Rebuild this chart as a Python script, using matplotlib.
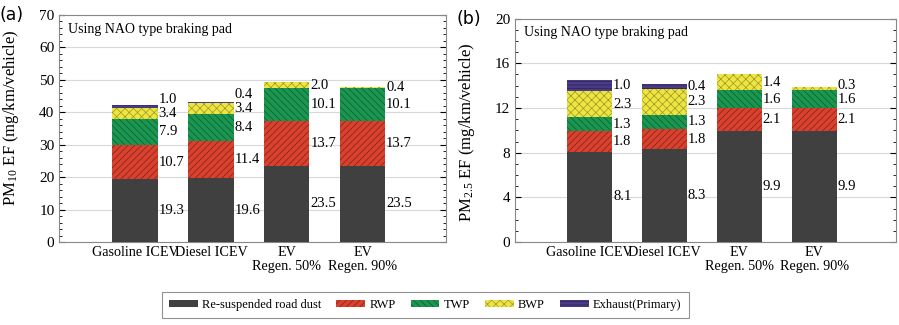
import matplotlib
matplotlib.use("Agg")
import matplotlib.pyplot as plt
import numpy as np
from matplotlib.patches import Patch
from matplotlib.ticker import MultipleLocator

plt.rcParams["font.family"] = ["Liberation Serif", "DejaVu Serif"]
plt.rcParams["mathtext.fontset"] = "stix"
plt.rcParams["hatch.linewidth"] = 0.5

CATEGORIES = ["Gasoline ICEV", "Diesel ICEV", "EV\nRegen. 50%", "EV\nRegen. 90%"]
SOURCES = ["Re-suspended road dust", "RWP", "TWP", "BWP", "Exhaust(Primary)"]

# PM10 emission factors (mg/km/vehicle)
PM10_DUST = [19.3, 19.6, 23.5, 23.5]
PM10_RWP = [10.7, 11.4, 13.7, 13.7]
PM10_TWP = [7.9, 8.4, 10.1, 10.1]
PM10_BWP = [3.4, 3.4, 2.0, 0.4]
PM10_EXH = [1.0, 0.4, 0.0, 0.0]

# PM2.5 emission factors (mg/km/vehicle)
PM25_DUST = [8.1, 8.3, 9.9, 9.9]
PM25_RWP = [1.8, 1.8, 2.1, 2.1]
PM25_TWP = [1.3, 1.3, 1.6, 1.6]
PM25_BWP = [2.3, 2.3, 1.4, 0.3]
PM25_EXH = [1.0, 0.4, 0.0, 0.0]

COLORS = ["#404040", "#d9402e", "#1a9650", "#eee63e", "#4b3a86"]
HATCHES = [None, "/////", "\\\\\\\\\\", "xxxx", "-----"]
HATCH_EC = ["#404040", "#7a2418", "#0f5a30", "#9a9430", "#2c2255"]


def panel(ax, series, ymax, ystep, minor, ylabel, label_pos, tag):
    x = np.arange(1, len(CATEGORIES) + 1)
    bottom = np.zeros(len(x))
    label_y = [[] for _ in x]
    gap = 0.06 * ymax
    for vals, fc, h, hc in zip(series, COLORS, HATCHES, HATCH_EC):
        vals = np.array(vals)
        ax.bar(x, vals, 0.6, bottom=bottom, color=fc, hatch=h, edgecolor=hc,
               linewidth=0, zorder=3)
        for i, v in enumerate(vals):
            if v <= 0:
                continue
            y = bottom[i] + v / 2
            if label_y[i]:
                y = max(y, label_y[i][-1] + gap)
            label_y[i].append(y)
            ax.text(x[i] + 0.31, y, f"{v:.1f}", ha="left", va="center",
                    fontsize=10.5, zorder=4)
        bottom += vals

    ax.set_xlim(0, 5.1)
    ax.set_ylim(0, ymax)
    ax.set_xticks(x)
    ax.set_xticklabels(CATEGORIES, fontsize=10.2, linespacing=1.1)
    ax.tick_params(axis="x", length=0, pad=3)
    ax.yaxis.set_major_locator(MultipleLocator(ystep))
    ax.yaxis.set_minor_locator(MultipleLocator(minor))
    ax.tick_params(axis="y", which="both", direction="in", right=True,
                   labelsize=11)
    ax.tick_params(axis="y", which="major", length=4)
    ax.tick_params(axis="y", which="minor", length=2)
    ax.grid(axis="y", color="#d8d8d8", lw=0.8, zorder=0)
    for s in ax.spines.values():
        s.set_color("#888888")
        s.set_linewidth(0.8)
    ax.set_ylabel(ylabel, fontsize=12)
    ax.yaxis.set_label_coords(-0.1, label_pos)
    ax.text(0.022, 0.965, "Using NAO type braking pad", transform=ax.transAxes,
            ha="left", va="top", fontsize=10)
    ax.text(-0.155, 1.0, tag, transform=ax.transAxes, ha="left", va="center",
            fontsize=12.5, family="DejaVu Sans")


fig = plt.figure(figsize=(8.99, 3.25), dpi=100)
ax1 = fig.add_axes([0.066, 0.255, 0.43, 0.70])
ax2 = fig.add_axes([0.573, 0.255, 0.424, 0.688])

panel(ax1, [PM10_DUST, PM10_RWP, PM10_TWP, PM10_BWP, PM10_EXH], 70, 10, 2,
      r"PM$_{\mathregular{10}}$ EF (mg/km/vehicle)", 0.545, "(a)")
panel(ax2, [PM25_DUST, PM25_RWP, PM25_TWP, PM25_BWP, PM25_EXH], 20, 4, 1,
      r"PM$_{\mathregular{2.5}}$ EF (mg/km/vehicle)", 0.49, "(b)")

handles = [Patch(facecolor=fc, hatch=h, edgecolor=hc, linewidth=0)
           for fc, h, hc in zip(COLORS, HATCHES, HATCH_EC)]
leg = fig.legend(handles, SOURCES, loc="center", bbox_to_anchor=(0.473, 0.062),
                 ncol=5, fontsize=9, frameon=True, fancybox=False,
                 handlelength=2.3, handleheight=0.45, columnspacing=1.2,
                 handletextpad=0.35, borderpad=0.55)
leg.get_frame().set_edgecolor("#777777")
leg.get_frame().set_linewidth(0.8)

fig.savefig("out.png", dpi=100, facecolor="white")
